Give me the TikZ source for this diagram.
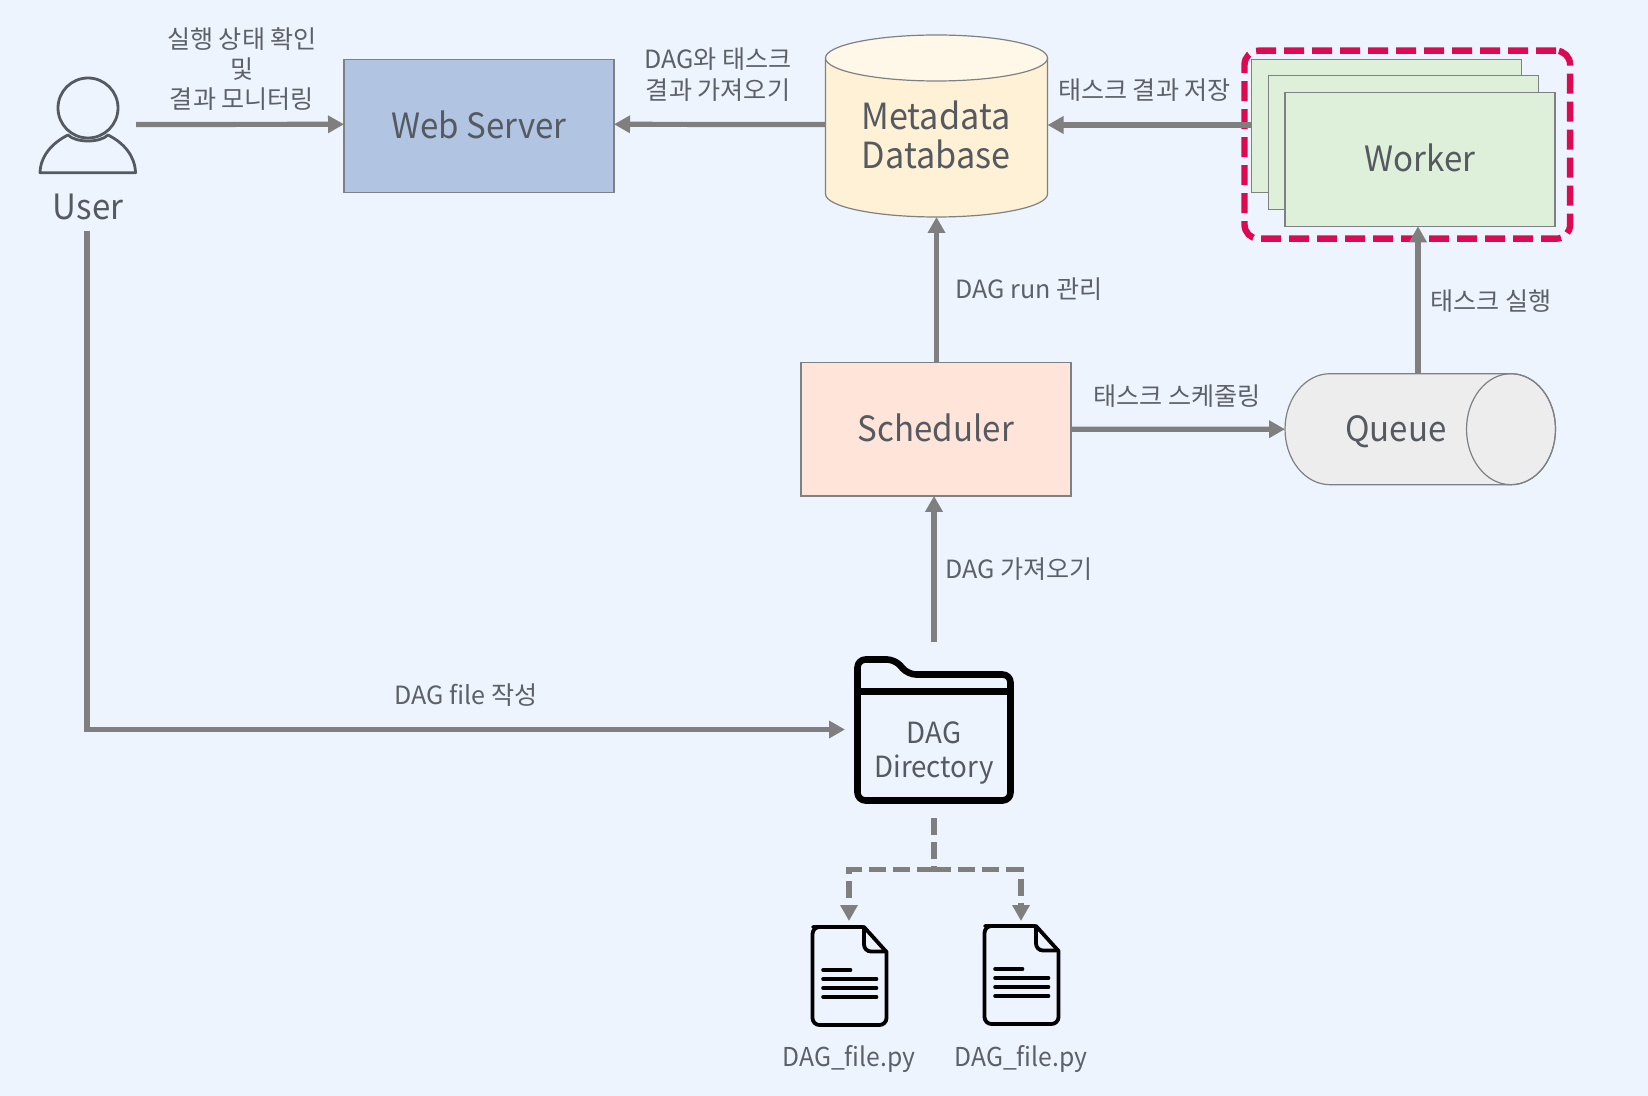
\documentclass[tikz,border=0pt]{standalone}
\usepackage{fontspec}
\setmainfont{Noto Sans CJK KR}
\newfontfamily\narrowf[FakeStretch=0.95]{Noto Sans CJK KR}
\usetikzlibrary{arrows.meta,calc}
\definecolor{bgc}{HTML}{EEF4FD}
\definecolor{txtc}{HTML}{555A60}
\definecolor{lblc}{HTML}{5C6167}
\definecolor{edgec}{HTML}{7E8184}
\definecolor{arrc}{HTML}{7F7F7F}
\definecolor{webc}{HTML}{B1C5E3}
\definecolor{dbc}{HTML}{FFF1D6}
\definecolor{dbtop}{HTML}{FFF8E8}
\definecolor{schc}{HTML}{FFE5D9}
\definecolor{workc}{HTML}{DFF0DA}
\definecolor{quec}{HTML}{EDEDED}
\definecolor{redc}{HTML}{DC0A50}
\tikzset{
  big/.style={text=txtc,font=\narrowf\fontsize{17.4}{19.5}\selectfont,align=center,inner sep=0pt},
  lbl/.style={text=lblc,font=\fontsize{12.55}{15.2}\selectfont,align=center,inner sep=0pt},
  box/.style={draw=edgec,line width=0.6pt,inner sep=0pt,outer sep=0pt,align=center,text=txtc,font=\narrowf\fontsize{17.4}{19.5}\selectfont},
  anchorbox/.style={inner sep=0pt,outer sep=0pt},
  flow/.style={draw=arrc,line width=2.6pt,-{Triangle[length=8pt,width=8.4pt]}},
  dashflow/.style={flow,dash pattern=on 8.5pt off 3.5pt},
  icon/.style={draw=black,line join=round,line cap=round}
}
\begin{document}
\begin{tikzpicture}[x=0.5pt,y=-0.5pt]
\fill[bgc] (0,0) rectangle (1648,1096);
\useasboundingbox (0,0) rectangle (1648,1096);

% user icon
\node[anchorbox,minimum width=48pt,minimum height=35pt] (usericon) at (88,124.5) {};
\draw[draw=txtc,line width=1.4pt] (88,108) ellipse [x radius=30,y radius=30];
\draw[draw=txtc,line width=1.4pt,line join=round] (68,135) .. controls (76,143) and (100,143) .. (108,135)
  .. controls (124,143) and (135,156) .. (135.5,172.7) -- (40,172.7)
  .. controls (40.5,156) and (52,143) .. (68,135) -- cycle;
\node[big] (usertxt) at (88,207) {User};
\coordinate (ustart) at (87,231);

% web server
\node[box,fill=webc,minimum width=135pt,minimum height=66.5pt] (web) at (479,126.3) {\raisebox{1.4pt}{Web Server}};

% metadata database
\path[fill=dbc,draw=edgec,line width=0.6pt] (825.5,58) -- (825.5,194) arc[start angle=180,end angle=360,x radius=111,y radius=-23] -- (1047.5,58) -- cycle;
\path[fill=dbtop,draw=edgec,line width=0.6pt] (936.5,58) ellipse [x radius=111,y radius=23];
\node[anchorbox,minimum width=111pt,minimum height=91pt] (db) at (936.5,126) {};
\node[big,font=\narrowf\fontsize{18}{19.5}\selectfont] (dbtxt) at (936,135) {Metadata\\Database};

% workers
\node[box,fill=workc,minimum width=135pt,minimum height=66.8pt] (w1) at (1386.5,126) {};
\node[box,fill=workc,minimum width=135pt,minimum height=66.8pt] (w2) at (1403.5,142.5) {};
\node[box,fill=workc,minimum width=135pt,minimum height=66.8pt] (w3) at (1420,159.5) {\raisebox{1.4pt}{Worker}};
\node[draw=redc,line width=3.2pt,rounded corners=7pt,dash pattern=on 10pt off 4pt,minimum width=162.8pt,minimum height=94pt,anchorbox] (workers) at (1407.3,144.7) {};

% scheduler
\node[box,fill=schc,minimum width=135pt,minimum height=66.6pt] (sch) at (936,429.3) {\raisebox{1.4pt}{Scheduler}};

% queue
\path[fill=quec,draw=edgec,line width=0.6pt] (1330,373.7) -- (1511,373.7) arc[start angle=90,end angle=-90,x radius=44.5,y radius=-55.5] -- (1330,484.7) arc[start angle=-90,end angle=-270,x radius=45,y radius=-55.5] -- cycle;
\draw[edgec,line width=0.6pt] (1511,429.2) ellipse [x radius=44.5,y radius=55.5];
\node[anchorbox,minimum width=135pt,minimum height=55.5pt] (queue) at (1420,429.2) {};
\node[big] (queuetxt) at (1396,432) {Queue};

% folder
\node[anchorbox,minimum width=80pt,minimum height=74pt] (folder) at (934,730) {};
\draw[icon,line width=3.3pt,rounded corners=4pt] (857.5,691.7) -- (857.5,659.5) -- (895,659.5) -- (908,674.5) -- (1010.5,674.5) -- (1010.5,800.5) -- (857.5,800.5) -- cycle;
\draw[icon,line width=3.3pt] (857.5,691.7) -- (1010.5,691.7);
\node[big,font=\narrowf\fontsize{14.6}{17}\selectfont] (foldertxt) at (934,753) {DAG\\Directory};
\coordinate (fin) at (845,729.5);
\coordinate (fout) at (934,818);
\coordinate (fup) at (934,642);
\coordinate (junction) at (934,869.5);

% files
\foreach \n/\dx/\dy in {a/0/0,b/172/-1}{
  \begin{scope}[shift={(\dx*0.5pt,\dy*-0.5pt)}]
  \draw[icon,line width=1.9pt,rounded corners=3.5pt] (863,927) -- (820,927) -- (812.5,927) -- (812.5,1025) -- (886.5,1025) -- (886.5,952);
  \draw[icon,line width=1.9pt] (864,927) -- (886.5,952);
  \draw[icon,line width=1.9pt,rounded corners=3.5pt] (864,927) -- (864,951.5) -- (886.5,951.5);
  \draw[icon,line width=1.8pt] (823,970) -- (850.5,970);
  \draw[icon,line width=1.8pt] (823,979) -- (876.5,979);
  \draw[icon,line width=1.8pt] (823,988) -- (876.5,988);
  \draw[icon,line width=1.8pt] (823,997) -- (876.5,997);
  \end{scope}
}
\coordinate (filea) at (849,921);
\coordinate (fileb) at (1021,921);
\node[lbl,font=\narrowf\fontsize{13}{15}\selectfont] (fa) at (849,1059) {DAG\_file.py};
\node[lbl,font=\narrowf\fontsize{13}{15}\selectfont] (fb) at (1021,1059) {DAG\_file.py};

% labels
\node[lbl] (l1) at (242,69) {실행 상태 확인\\및\\결과 모니터링};
\node[lbl] (l2) at (718,74.5) {DAG와 태스크\\결과 가져오기};
\node[lbl] (l3) at (1144.5,90.5) {태스크 결과 저장};
\node[lbl] (l4) at (1029,289) {DAG run 관리};
\node[lbl] (l5) at (1491,301.5) {태스크 실행};
\node[lbl] (l6) at (1177,396.5) {태스크 스케줄링};
\node[lbl] (l7) at (1019,569) {DAG 가져오기};
\node[lbl] (l8) at (466,695) {DAG file 작성};

% connectors
\draw[flow] (usericon.east) -- ([yshift=1pt]web.west);
\draw[flow] ([yshift=0.7pt]db.west) -- ([yshift=1pt]web.east);
\draw[flow] ([yshift=0.5pt]w1.west) -- ([yshift=0.5pt]db.east);
\draw[flow] (db.south |- sch.north) -- (db.south);
\draw[flow] ([xshift=-1pt]w3.south |- queue.north) -- ([xshift=-1pt]w3.south);
\draw[flow] (sch.east) -- (queue.west);
\draw[flow] (fup) -- (fup |- sch.south);
\draw[flow] (ustart) |- (fin);
\draw[dashflow,-] (fout) -- (junction);
\draw[dashflow] (junction) -| (filea);
\draw[dashflow] (junction) -| (fileb);
\end{tikzpicture}
\end{document}
